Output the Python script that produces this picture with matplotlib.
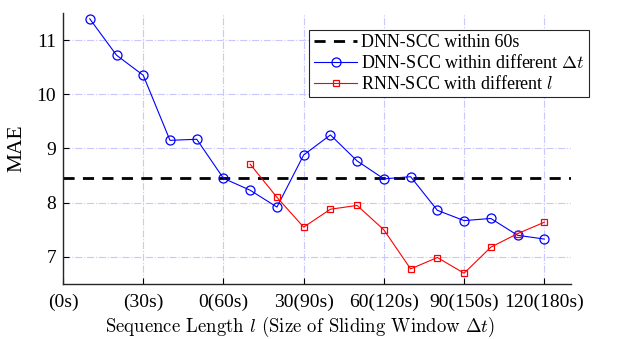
import numpy as np
import matplotlib
matplotlib.use('Agg')
import matplotlib.pyplot as plt

plt.rcParams['font.family'] = ['Liberation Serif', 'DejaVu Serif']
plt.rcParams['mathtext.fontset'] = 'cm'

# data
window_dt = [10, 20, 30, 40, 50, 60, 70, 80, 90, 100, 110, 120, 130, 140, 150, 160, 170, 180]
dnn_mae = [11.39, 10.72, 10.35, 9.15, 9.17, 8.45, 8.23, 7.92, 8.88, 9.25, 8.77, 8.44, 8.48,
           7.86, 7.67, 7.71, 7.40, 7.33]
seq_len = [70, 80, 90, 100, 110, 120, 130, 140, 150, 160, 170, 180]
rnn_mae = [8.71, 8.10, 7.55, 7.88, 7.95, 7.50, 6.78, 6.99, 6.70, 7.18, 7.43, 7.64]
dnn_60s = 8.45

xticks = [0, 30, 60, 90, 120, 150, 180]
xticklabels = ['(0s)', '(30s)', '0(60s)', '30(90s)', '60(120s)', '90(150s)', '120(180s)']
yticks = [7, 8, 9, 10, 11]

fig = plt.figure(figsize=(6.18, 3.39), dpi=100)
ax = fig.add_axes([0.102, 0.162, 0.822, 0.800])

ax.axhline(dnn_60s, color='black', linestyle=(0, (4, 3)), linewidth=2, label='DNN-SCC within 60s')
ax.plot(window_dt, dnn_mae, color='blue', linewidth=0.8, marker='o', markersize=6.5,
        markerfacecolor='none', markeredgewidth=0.9, label=r'DNN-SCC within different $\it{\Delta t}$')
ax.plot(seq_len, rnn_mae, color='red', linewidth=0.8, marker='s', markersize=5,
        markerfacecolor='none', markeredgewidth=0.9, label=r'RNN-SCC with different $l$')

ax.set_xlim(0, 190)
ax.set_ylim(6.5, 11.5)
ax.set_xticks(xticks)
ax.set_xticklabels(xticklabels)
ax.set_yticks(yticks)
ax.tick_params(direction='in', labelsize=14, length=4, width=0.8)
ax.tick_params(axis='x', pad=7)
ax.tick_params(axis='y', pad=5)
ax.grid(True, color='#c8c8ff', linestyle='-.', linewidth=0.8)
ax.spines['top'].set_visible(False)
ax.spines['right'].set_visible(False)
for s in ['left', 'bottom']:
    ax.spines[s].set_linewidth(1.0)
    ax.spines[s].set_color('#262626')

ax.set_ylabel('MAE', fontsize=15.5, labelpad=7)
ax.set_xlabel(r'Sequence Length $l$ (Size of Sliding Window $\Delta t$)',
              fontsize=13.5, fontfamily='cmr10')
ax.xaxis.set_label_coords(0.467, -0.112)

leg = ax.legend(loc='upper right', bbox_to_anchor=(1.035, 0.937), fontsize=13, fancybox=False,
                edgecolor='#262626', framealpha=1, handlelength=2.4, borderpad=0.25,
                labelspacing=0.15, handletextpad=0.2, borderaxespad=0)
leg.get_frame().set_linewidth(0.8)

fig.savefig('out.png', dpi=100)
